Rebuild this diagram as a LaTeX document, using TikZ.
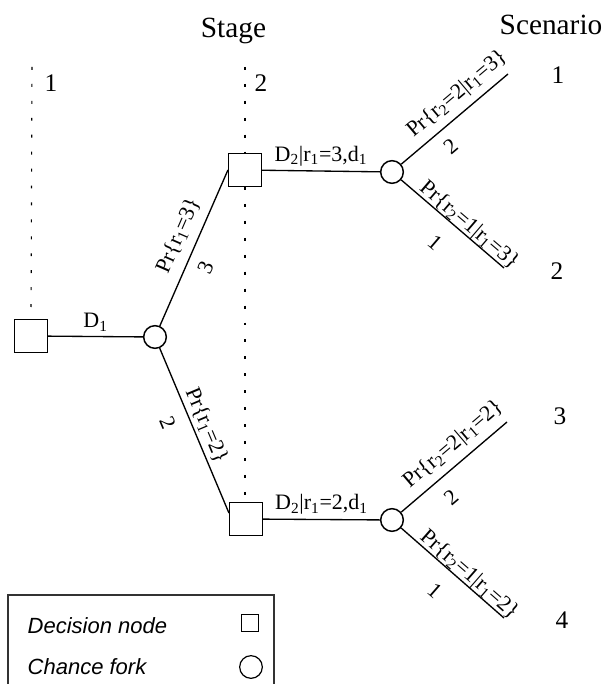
\documentclass[tikz,border=0pt]{standalone}
\usepackage{fontspec}
\setmainfont{Liberation Serif}
\newfontfamily\legendfont{Liberation Sans}
\begin{document}
\begin{tikzpicture}[x=0.75pt,y=-0.75pt,
  dec/.style={draw, line width=1.1pt, minimum size=24.5pt, inner sep=0pt},
  chance/.style={draw, circle, line width=1.1pt, minimum size=17pt, inner sep=0pt},
  conn/.style={line width=1pt},
  stageline/.style={line width=0.85pt, dash pattern=on 2.2pt off 10.5pt},
  lbl/.style={font=\fontsize{16.5}{19}\selectfont},
  prob/.style={lbl, sloped, above},
  digit/.style={lbl, sloped, below},
  big/.style={font=\fontsize{22}{26}\selectfont},
  num/.style={font=\fontsize{19}{22}\selectfont},
  leg/.style={font=\legendfont\itshape\fontsize{16.5}{19}\selectfont},
  legsq/.style={draw, line width=0.9pt, minimum size=12.5pt, inner sep=0pt},
  legci/.style={draw, circle, line width=0.9pt, minimum size=17pt, inner sep=0pt}]
\useasboundingbox (0,0) rectangle (605,684);

% headers
\node[big, anchor=base] (stage) at (233.5,38) {Stage};
\node[big, anchor=base] (scen) at (551,35) {Scenario};
\node[num] (s1) at (51,83) {1};
\node[num] (s2) at (261,83) {2};

% nodes
\node[dec] (d1) at (31,336) {};
\node[chance] (c1) at (155,337) {};
\node[dec] (d2) at (245,170) {};
\node[dec] (d3) at (246,519) {};
\node[chance] (c2) at (392,172) {};
\node[chance] (c3) at (392,520) {};
\coordinate (e1) at (508,74);
\coordinate (e2) at (504,268);
\coordinate (e3) at (507,422);
\coordinate (e4) at (504,618);

% scenario numbers
\node[num] (n1) at (558,75) {1};
\node[num] (n2) at (557,271) {2};
\node[num] (n3) at (560,416) {3};
\node[num] (n4) at (562,620) {4};

% stage lines
\draw[stageline] (32,67) -- (d1.north);
\draw[stageline] (245,67) -- (d2.north);
\draw[stageline] (d2.south) -- (d2.south |- d3.north);

% connectors
\draw[conn] (d1) -- node[lbl, above] {D\textsubscript{1}} (c1);
\draw[conn] (c1) -- node[prob, pos=0.53, inner sep=6.75pt] {Pr\{r\textsubscript{1}=3\}}
                    node[digit, pos=0.42, inner sep=8pt] {3} (d2.west);
\draw[conn] (c1) -- node[prob, pos=0.5, inner sep=2.25pt] {Pr\{r\textsubscript{1}=2\}}
                    node[digit, pos=0.4, inner sep=10pt] {2} ([yshift=4.5pt]d3.west);
\draw[conn] (d2) -- node[lbl, above] {D\textsubscript{2}|r\textsubscript{1}=3,d\textsubscript{1}} (c2);
\draw[conn] (d3) -- node[lbl, above] {D\textsubscript{2}|r\textsubscript{1}=2,d\textsubscript{1}} (c3);
\draw[conn] (c2) -- node[prob, pos=0.63, inner sep=5pt] {Pr\{r\textsubscript{2}=2|r\textsubscript{1}=3\}}
                    node[digit, pos=0.35, inner sep=8pt] {2} (e1);
\draw[conn] (c2) -- node[prob, pos=0.6, inner sep=-1pt] {Pr\{r\textsubscript{2}=1|r\textsubscript{1}=3\}}
                    node[digit, pos=0.49, inner sep=13pt] {1} (e2);
\draw[conn] (c3) -- node[prob, pos=0.6, inner sep=5pt] {Pr\{r\textsubscript{2}=2|r\textsubscript{1}=2\}}
                    node[digit, pos=0.34, inner sep=10pt] {2} (e3);
\draw[conn] (c3) -- node[prob, pos=0.6, inner sep=-1pt] {Pr\{r\textsubscript{2}=1|r\textsubscript{1}=2\}}
                    node[digit, pos=0.49, inner sep=13pt] {1} (e4);

% legend
\draw[line width=0.8pt, black!80] (8,684) -- (8,595) -- (274,595) -- (274,684);
\node[leg, anchor=base west] (ldec) at (23,633) {Decision node};
\node[leg, anchor=base west] (lch) at (23,674) {Chance fork};
\node[legsq] (lsq) at (250,623) {};
\node[legci] (lci) at (251,667) {};
\end{tikzpicture}
\end{document}
